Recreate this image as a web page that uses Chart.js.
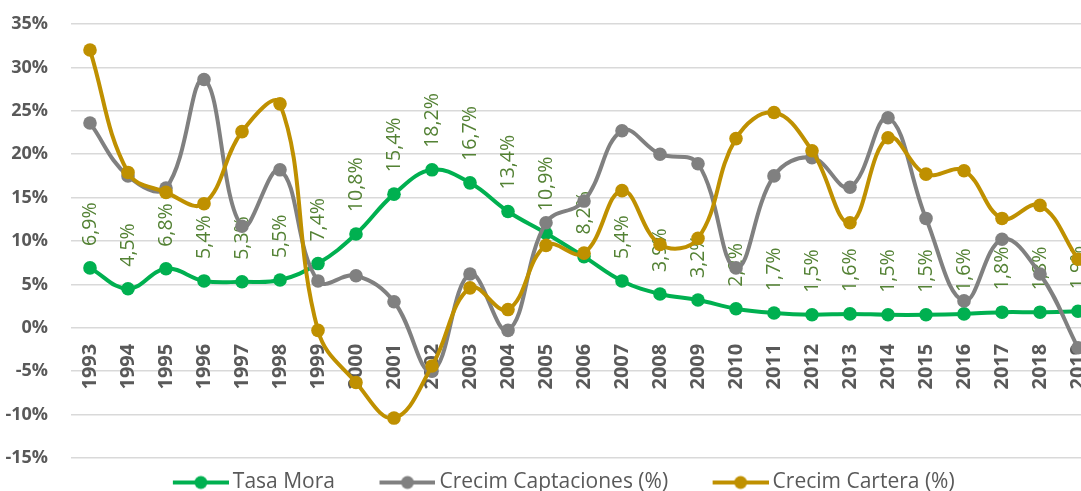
<!DOCTYPE html>
<html>
<head>
<meta charset="utf-8">
<script src="https://cdn.jsdelivr.net/npm/chart.js@4/dist/chart.umd.min.js"></script>
<style>
  html, body { margin: 0; padding: 0; background: #fff; overflow: hidden; }
  #wrap { width: 1130px; height: 503px; position: relative; }
</style>
</head>
<body>
<div id="wrap"><canvas id="myChart"></canvas></div>
<script>
var years = ['1993', '1994', '1995', '1996', '1997', '1998', '1999', '2000', '2001', '2002', '2003', '2004', '2005', '2006', '2007', '2008', '2009', '2010', '2011', '2012', '2013', '2014', '2015', '2016', '2017', '2018', '2019']
var tasaMora = [6.9, 4.5, 6.8, 5.4, 5.3, 5.5, 7.4, 10.8, 15.4, 18.2, 16.7, 13.4, 10.9, 8.2, 5.4, 3.9, 3.2, 2.2, 1.7, 1.5, 1.6, 1.5, 1.5, 1.6, 1.8, 1.8, 1.9]
var captaciones = [23.6, 17.5, 16.1, 28.6, 11.7, 18.2, 5.4, 6.0, 3.0, -5.0, 6.2, -0.3, 12.1, 14.6, 22.7, 20.0, 18.9, 6.9, 17.5, 19.6, 16.2, 24.2, 12.6, 3.1, 10.2, 6.2, -2.3]
var cartera = [32.0, 17.9, 15.6, 14.3, 22.6, 25.8, -0.3, -6.3, -10.4, -4.4, 4.6, 2.1, 9.5, 8.6, 15.8, 9.6, 10.3, 21.8, 24.8, 20.4, 12.1, 21.9, 17.7, 18.1, 12.6, 14.1, 7.9]
var seriesNames = ['Tasa Mora', 'Crecim Captaciones (%)', 'Crecim Cartera (%)']
var seriesColors = ['#00B050', '#808080', '#BF9000']

Chart.defaults.font.family = "'Open Sans', sans-serif";

// line + dot image for the legend, with blank room on the left as item spacing
function legendIcon(color) {
    var c = document.createElement('canvas');
    c.width = 93;
    c.height = 16;
    var x = c.getContext('2d');
    x.strokeStyle = color;
    x.lineWidth = 4;
    x.beginPath();
    x.moveTo(37, 8);
    x.lineTo(93, 8);
    x.stroke();
    x.fillStyle = color;
    x.beginPath();
    x.arc(65, 8, 6.5, 0, Math.PI * 2);
    x.fill();
    return c;
}

// rotated value labels above the Tasa Mora points
const moraLabels = {
    id: 'moraLabels',
    afterDatasetDraw(chart, args) {
        if (args.index !== 0) return;
        const ctx = chart.ctx;
        ctx.save();
        ctx.fillStyle = '#548235';
        ctx.font = "19.5px 'Open Sans', sans-serif";
        ctx.textAlign = 'left';
        ctx.textBaseline = 'middle';
        args.meta.data.forEach(function (pt, i) {
            ctx.save();
            ctx.translate(pt.x, pt.y - 22);
            ctx.rotate(-Math.PI / 2);
            ctx.fillText(tasaMora[i].toFixed(1).replace('.', ',') + '%', 0, 0);
            ctx.restore();
        });
        ctx.restore();
    }
};

function makeSet(i, data, order) {
    return {
        label: seriesNames[i],
        data: data,
        borderColor: seriesColors[i],
        backgroundColor: seriesColors[i],
        pointBackgroundColor: seriesColors[i],
        pointBorderColor: seriesColors[i],
        borderWidth: 4,
        pointRadius: 6.8,
        pointBorderWidth: 0,
        tension: 0.4,
        fill: false,
        order: order
    };
}

const abc = document.getElementById('myChart');
const myChart = new Chart(abc, {
    type: 'line',
    data: {
        labels: years,
        datasets: [
            makeSet(0, tasaMora, 3),
            makeSet(1, captaciones, 2),
            makeSet(2, cartera, 1)
        ]
    },
    plugins: [moraLabels],
    options: {
        responsive: true,
        maintainAspectRatio: false,
        animation: false,
        layout: { padding: { top: 24, right: 33, left: 0, bottom: 0 } },
        plugins: {
            tooltip: { enabled: false },
            legend: {
                position: 'bottom',
                labels: {
                    usePointStyle: true,
                    pointStyleWidth: 80,
                    padding: 14,
                    color: '#595959',
                    font: { size: 21 },
                    generateLabels: function (chart) {
                        return chart.data.datasets.map(function (ds, i) {
                            return {
                                text: ds.label,
                                fillStyle: ds.borderColor,
                                strokeStyle: ds.borderColor,
                                lineWidth: 0,
                                pointStyle: legendIcon(ds.borderColor),
                                fontColor: '#595959',
                                hidden: false,
                                datasetIndex: i
                            };
                        });
                    }
                }
            }
        },
        scales: {
            x: {
                position: { y: 0 },
                offset: true,
                grid: { display: false, drawTicks: false },
                border: { display: false },
                ticks: {
                    autoSkip: false,
                    minRotation: 90,
                    maxRotation: 90,
                    padding: 16,
                    color: '#595959',
                    font: { size: 20, weight: 'bold' }
                }
            },
            y: {
                min: -15,
                max: 35,
                grid: { color: '#D9D9D9', lineWidth: 1.5, drawTicks: false },
                border: { display: false },
                afterFit: function (scale) {
                    scale.width = 71;
                    scale.paddingTop = 8;
                    scale.paddingBottom = 8;
                },
                ticks: {
                    stepSize: 5,
                    padding: 23,
                    color: '#595959',
                    font: { size: 18, weight: 'bold' },
                    callback: function (v) { return v + '%'; }
                }
            }
        }
    }
});
</script>
</body>
</html>
